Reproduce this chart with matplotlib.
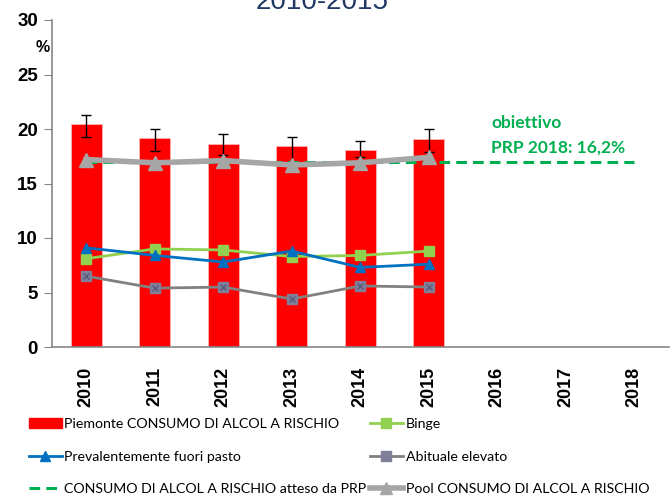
import matplotlib
matplotlib.use("Agg")
import matplotlib.pyplot as plt
from matplotlib.lines import Line2D
from matplotlib.patches import Patch
import numpy as np

years = ["2010", "2011", "2012", "2013", "2014", "2015", "2016", "2017", "2018"]
bar_years = ["2010", "2011", "2012", "2013", "2014", "2015"]
piemonte = [20.5, 19.2, 18.6, 18.4, 18.1, 19.1]
err_low = [19.3, 18.0, 17.6, 17.0, 17.4, 17.9]
err_high = [21.3, 20.0, 19.5, 19.3, 18.9, 20.0]
binge = [8.1, 9.0, 8.9, 8.3, 8.4, 8.8]
fuori_pasto = [9.1, 8.4, 7.8, 8.8, 7.3, 7.6]
abituale = [6.5, 5.4, 5.5, 4.4, 5.6, 5.5]
pool = [17.2, 16.9, 17.1, 16.7, 16.9, 17.4]
atteso = [17.0, 17.0, 17.0, 17.0, 17.0, 17.0, 17.0, 17.0, 17.0]

plt.rcParams['font.family'] = ['Liberation Sans', 'DejaVu Sans']

fig = plt.figure(figsize=(6.72, 4.97), dpi=100)
ax = fig.add_axes([52/672, 1 - 347/497, (668.5 - 52)/672, (347 - 20)/497])

x_all = np.arange(len(years))
xb = np.arange(len(bar_years))

ax.bar(xb, piemonte, width=0.45, color='#FF0000', edgecolor='#FFB3B3', linewidth=0.6, zorder=2)
yerr = [np.array(piemonte) - np.array(err_low), np.array(err_high) - np.array(piemonte)]
ax.errorbar(xb, piemonte, yerr=yerr, fmt='none', ecolor='black', elinewidth=1.0, capsize=3.5, capthick=1.0, zorder=3)

ax.plot(x_all, atteso, color='#00B050', lw=2.2, dashes=(3.5, 2), zorder=4)
ax.plot(xb, pool, color='#A6A6A6', lw=4, marker='^', markersize=10, zorder=5)
ax.plot(xb, binge, color='#92D050', lw=2, marker='s', markersize=7, zorder=6)
ax.plot(xb, fuori_pasto, color='#0070C0', lw=2, marker='^', markersize=7, zorder=7)
ax.plot(xb, abituale, color='#808080', lw=2, marker='s', markersize=7,
        markerfacecolor='#7F7F9A', markeredgecolor='#7F7F9A', zorder=6)
ax.plot(xb, abituale, linestyle='none', marker='x', markersize=5, color='#5A5A7A', mew=1, zorder=6)

ax.set_xlim(-0.5, len(years) - 0.5)
ax.set_ylim(0, 30)
ax.set_yticks([0, 5, 10, 15, 20, 25, 30])
ax.set_xticks(x_all)
ax.set_xticklabels(years, rotation=90, fontsize=13, fontweight='bold')
ax.tick_params(axis='x', length=0, pad=14)
ax.tick_params(axis='y', length=6, color='#868686', labelsize=13.5, pad=4)
for lab in ax.get_yticklabels():
    lab.set_fontweight('bold')
for s in ['top', 'right']:
    ax.spines[s].set_visible(False)
for s in ['left', 'bottom']:
    ax.spines[s].set_color('#868686')
    ax.spines[s].set_linewidth(1.2)

fig.text(43/672, 1 - 47/497, '%', fontsize=11.5, fontweight='bold', ha='center', va='center')
fig.text(322/672, 1 - 2/497, '2010-2015', fontsize=20, color='#1F3864', ha='center', va='center')

fig.text(491/672, 1 - 123/497, 'obiettivo', fontsize=12.5, fontweight='bold', color='#00B050',
         ha='left', va='center', family=['Lato', 'DejaVu Sans'])
fig.text(491/672, 1 - 148/497, 'PRP 2018: 16,2%', fontsize=12.5, fontweight='bold', color='#00B050',
         ha='left', va='center', family=['Lato', 'DejaVu Sans'])

handles = [
    Patch(facecolor='#FF0000', edgecolor='#FF0000'),
    Line2D([], [], color='#0070C0', lw=2, marker='^', markersize=7),
    Line2D([], [], color='#00B050', lw=2.2, dashes=(3.5, 2)),
    Line2D([], [], color='#92D050', lw=2, marker='s', markersize=7),
    Line2D([], [], color='#808080', lw=2, marker='s', markersize=7, markerfacecolor='#7F7F9A', markeredgecolor='#7F7F9A'),
    Line2D([], [], color='#A6A6A6', lw=4, marker='^', markersize=9),
]
labels = [
    'Piemonte CONSUMO DI ALCOL A RISCHIO',
    'Prevalentemente fuori pasto',
    'CONSUMO DI ALCOL A RISCHIO atteso da PRP',
    'Binge',
    'Abituale elevato',
    'Pool CONSUMO DI ALCOL A RISCHIO',
]
leg = fig.legend(handles, labels, ncol=2, loc='upper left', bbox_to_anchor=(29/672, 1 - 418/497),
                 frameon=False, prop={'family': ['Lato', 'DejaVu Sans'], 'size': 10.2},
                 handlelength=2.3, handletextpad=0.2, columnspacing=0.25, labelspacing=1.45,
                 borderaxespad=0, borderpad=0)

fig.savefig('out.png', dpi=100)
